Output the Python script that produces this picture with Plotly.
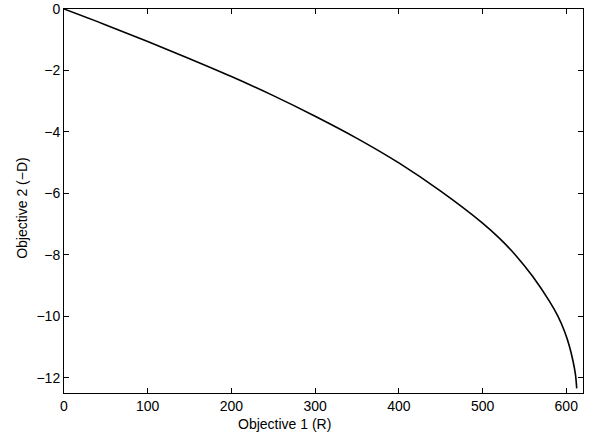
import plotly.graph_objects as go

objective1 = [0, 50, 100, 150, 200, 250, 300, 350, 400, 450, 500, 520, 540, 560, 580, 590, 598, 604, 608, 611, 612.5]
objective2 = [0, -0.52, -1.06, -1.62, -2.20, -2.82, -3.49, -4.21, -5.01, -5.93, -6.97, -7.46, -8.03, -8.71, -9.52, -10.0, -10.5, -11.0, -11.45, -11.9, -12.35]

x_ticks = [0, 100, 200, 300, 400, 500, 600]
y_ticks = [0, -2, -4, -6, -8, -10, -12]

FONT = "Liberation Sans, Arial, sans-serif"

fig = go.Figure()
fig.add_trace(go.Scatter(x=objective1, y=objective2, mode="lines",
                         line=dict(color="black", width=1.6, shape="spline", smoothing=1),
                         showlegend=False, hoverinfo="skip"))

axis_common = dict(showline=True, linecolor="black", linewidth=1, mirror="ticks",
                   ticks="inside", ticklen=5, tickcolor="black", tickwidth=1,
                   showgrid=False, zeroline=False, automargin=False,
                   tickfont=dict(family=FONT, size=14, color="black"))

fig.update_layout(
    width=595, height=435,
    margin=dict(l=64, r=12, t=9, b=42),
    paper_bgcolor="white", plot_bgcolor="white",
    font=dict(family=FONT, size=14, color="black"),
    xaxis=dict(range=[0, 620], tickvals=x_ticks, **axis_common),
    yaxis=dict(range=[-12.5, 0], tickvals=y_ticks, **axis_common),
    annotations=[
        dict(text="Objective 1 (R)", xref="paper", yref="paper", x=0.424, y=-0.081,
             xanchor="center", yanchor="middle", showarrow=False,
             font=dict(family=FONT, size=14, color="black")),
        dict(text="Objective 2 (\u2212D)", xref="paper", yref="paper", x=-0.081, y=0.482,
             xanchor="center", yanchor="middle", showarrow=False, textangle=-90,
             font=dict(family=FONT, size=14, color="black")),
    ],
)

fig.write_html("out.html", config={"displayModeBar": False},
               post_script="document.body.style.margin='0';")
